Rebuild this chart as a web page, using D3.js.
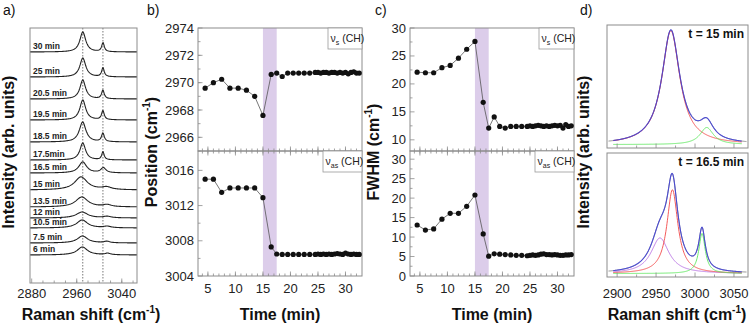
<!DOCTYPE html>
<html>
<head>
<meta charset="utf-8">
<script src="https://cdn.jsdelivr.net/npm/d3@7"></script>
<style>
  body { margin: 0; background: #fff; }
  svg { display: block; font-family: "Liberation Sans", Arial, sans-serif; }
</style>
</head>
<body>
<svg id="fig" width="756" height="324"></svg>
<script>
// ---- Panels b / c: time series (min) ----
const times = [4.5, 6, 7.5, 9, 10.5, 12, 13.5, 15, 16.5, 17.5, 18.5, 19.5, 20.5, 21.5, 22.5, 23.5,
  24.5, 25, 25.5, 26, 26.5, 27, 27.5, 28, 28.5, 29, 29.5, 30, 30.5, 31, 31.5, 32, 32.5];
const posS = [2969.6, 2970.0, 2970.25, 2969.6, 2969.6, 2969.45, 2969.0, 2967.6, 2970.6, 2970.7, 2970.45,
  2970.7, 2970.7, 2970.7, 2970.7, 2970.7, 2970.75, 2970.75, 2970.7, 2970.75, 2970.75, 2970.7, 2970.75,
  2970.75, 2970.7, 2970.75, 2970.7, 2970.75, 2970.65, 2970.75, 2970.8, 2970.7, 2970.7];
const posAs = [3015.0, 3015.0, 3013.5, 3014.0, 3014.0, 3014.0, 3014.0, 3012.9, 3007.3, 3006.5, 3006.45,
  3006.45, 3006.45, 3006.45, 3006.45, 3006.45, 3006.45, 3006.5, 3006.45, 3006.5, 3006.45, 3006.5, 3006.45,
  3006.5, 3006.55, 3006.5, 3006.45, 3006.6, 3006.5, 3006.45, 3006.5, 3006.45, 3006.45];
const fwhmS = [22.1, 22.0, 22.0, 22.9, 23.3, 24.6, 26.2, 27.6, 16.7, 12.1, 14.1, 12.4, 12.1, 12.4, 12.4,
  12.4, 12.4, 12.5, 12.4, 12.5, 12.6, 12.5, 12.4, 12.5, 12.4, 12.5, 12.6, 12.5, 12.6, 12.1, 12.7, 12.4, 12.5];
const fwhmAs = [13.1, 11.8, 12.1, 14.6, 16.1, 16.1, 17.9, 20.8, 10.8, 5.1, 5.7, 5.6, 5.5, 5.4, 5.3, 5.3,
  5.2, 5.3, 5.4, 5.3, 5.4, 5.6, 5.7, 5.5, 5.5, 5.4, 5.5, 5.4, 5.3, 5.3, 5.4, 5.4, 5.5];
const bandRange = [15, 17.5];

// ---- Panel a: stacked spectra (peak parameters taken from panels b/c) ----
const specLabels = ["6 min", "7.5 min", "10.5 min", "12 min", "13.5 min", "15 min", "16.5 min",
  "17.5min", "18.5 min", "19.5 min", "20.5 min", "25 min", "30 min"];
const specTimes = [6, 7.5, 10.5, 12, 13.5, 15, 16.5, 17.5, 18.5, 19.5, 20.5, 25, 30];
const specOffset = [2.8, 4.0, 5.5, 6.5, 7.6, 9.3, 11.0, 12.3, 14.1, 16.3, 18.4, 20.6, 23.1];
const specAmpS = [0.8, 0.7, 0.8, 0.6, 1.0, 1.3, 1.1, 1.7, 2.0, 2.0, 1.9, 1.9, 2.0];
const specAmpAs = [0.15, 0.15, 0.15, 0.15, 0.2, 0.25, 0.5, 0.8, 0.85, 0.9, 0.85, 0.9, 0.9];
const guideLines = [2970.7, 3006.5];

// ---- Panel d: Lorentzian fit components [position, FWHM, amplitude] ----
const fit15 = { red: [2969, 28, 1.0], green: [3015, 21, 0.15] };
const fit165 = { purple: [2955, 28, 0.31], red: [2971, 17, 0.73], green: [3009, 10, 0.35] };
const compColors = { red: "#f24848", green: "#5ee65e", purple: "#b56fe2" };

const svg = d3.select("#fig");
const FRAME = "#8c8c8c";
const FONT_TICK = 13;

function lor(x, p) { const hw = p[1] / 2; return p[2] / (1 + ((x - p[0]) / hw) ** 2); }

function frame(x0, y0, x1, y1) {
  svg.append("rect").attr("x", x0).attr("y", y0).attr("width", x1 - x0).attr("height", y1 - y0)
    .attr("fill", "none").attr("stroke", FRAME).attr("stroke-width", 1);
}

// inward tick marks along a horizontal edge (dir = -1 up, +1 down)
function hTicks(scale, y, majors, minors, dir) {
  minors.forEach(v => svg.append("line").attr("x1", scale(v)).attr("x2", scale(v))
    .attr("y1", y).attr("y2", y + dir * 2.5).attr("stroke", FRAME).attr("stroke-width", 0.8));
  majors.forEach(v => svg.append("line").attr("x1", scale(v)).attr("x2", scale(v))
    .attr("y1", y).attr("y2", y + dir * 4.5).attr("stroke", FRAME).attr("stroke-width", 0.8));
}
function vTicks(scale, x, majors, minors) {
  minors.forEach(v => svg.append("line").attr("y1", scale(v)).attr("y2", scale(v))
    .attr("x1", x).attr("x2", x + 2.5).attr("stroke", FRAME).attr("stroke-width", 0.8));
  majors.forEach(v => svg.append("line").attr("y1", scale(v)).attr("y2", scale(v))
    .attr("x1", x).attr("x2", x + 4.5).attr("stroke", FRAME).attr("stroke-width", 0.8));
}
function xLabels(scale, y, vals) {
  vals.forEach(v => svg.append("text").attr("x", scale(v)).attr("y", y).attr("text-anchor", "middle")
    .attr("font-size", FONT_TICK).attr("fill", "#222").text(v));
}
function yLabels(scale, x, vals) {
  vals.forEach(v => svg.append("text").attr("x", x).attr("y", scale(v) + 4.5).attr("text-anchor", "end")
    .attr("font-size", FONT_TICK).attr("fill", "#222").text(v));
}
// axis title with "(cm-1)" superscript
function title(x, y, main, rotate, sup) {
  const t = svg.append("text").attr("text-anchor", "middle").attr("font-weight", "bold")
    .attr("font-size", 16).attr("fill", "#111")
    .attr("transform", `translate(${x},${y})` + (rotate ? " rotate(-90)" : ""));
  t.append("tspan").text(main);
  if (sup) {
    t.append("tspan").attr("font-size", 10).attr("dy", -7).text("-1");
    t.append("tspan").attr("dy", 7).text(")");
  }
}
function panelLetter(x, txt) {
  svg.append("text").attr("x", x).attr("y", 15).attr("font-size", 14).attr("fill", "#111").text(txt);
}
function legendBox(x0, y0, x1, sub) {
  svg.append("rect").attr("x", x0).attr("y", y0).attr("width", x1 - x0).attr("height", 21)
    .attr("fill", "#fff").attr("stroke", "#999").attr("stroke-width", 0.8);
  const t = svg.append("text").attr("x", x0 + 2.5).attr("y", y0 + 14).attr("font-size", 10.5).attr("fill", "#222");
  t.append("tspan").text("ν");
  t.append("tspan").attr("font-size", 7).attr("dy", 2.5).text(sub);
  t.append("tspan").attr("dy", -2.5).text(" (CH)");
}

// ================= Panel a =================
const ax = d3.scaleLinear().domain([2877, 3067]).range([30, 137]);
const ay = d3.scaleLinear().domain([0, 25.5]).range([283, 28]);
const grid = d3.range(2877, 3067.5, 1);
const specLine = d3.line().x(d => ax(d[0])).y(d => ay(d[1]));

guideLines.forEach(v => svg.append("line").attr("x1", ax(v)).attr("x2", ax(v)).attr("y1", 28).attr("y2", 283)
  .attr("stroke", "#555").attr("stroke-width", 0.8).attr("stroke-dasharray", "1.5,1.5"));

specTimes.forEach((t, i) => {
  const k = times.indexOf(t);
  const p1 = [posS[k], fwhmS[k], specAmpS[i]];
  const p2 = [posAs[k], fwhmAs[k], specAmpAs[i]];
  const pts = grid.map(x => [x, specOffset[i] + lor(x, p1) + lor(x, p2)]);
  svg.append("path").attr("d", specLine(pts)).attr("fill", "none")
    .attr("stroke", "#222").attr("stroke-width", 1.1);
  svg.append("text").attr("x", 33).attr("y", ay(specOffset[i]) - 3.5).attr("font-size", 8.5)
    .attr("font-weight", "bold").attr("fill", "#222").text(specLabels[i]);
});
frame(30, 28, 137, 283);
hTicks(ax, 283, [2880, 2960, 3040], d3.range(2900, 3067, 20), -1);
xLabels(ax, 298, [2880, 2960, 3040]);
title(91, 320, "Raman shift (cm", false, true);
title(14, 152, "Intensity (arb. units)", true, false);
panelLetter(3, "a)");

// ================= Panels b & c =================
function timePanel(x0, x1, topDom, topTicks, topMinor, botDom, botTicks, botMinor, topVals, botVals, yTitle, letter, letterX, titleX) {
  const x = d3.scaleLinear().domain([3.2, 33]).range([x0, x1]);
  const yT = d3.scaleLinear().domain(topDom).range([151, 28]);
  const yB = d3.scaleLinear().domain(botDom).range([276, 151]);
  svg.append("rect").attr("x", x(bandRange[0])).attr("y", 28)
    .attr("width", x(bandRange[1]) - x(bandRange[0])).attr("height", 248).attr("fill", "#dccdea");
  frame(x0, 28, x1, 151);
  frame(x0, 151, x1, 276);
  const majX = [5, 10, 15, 20, 25, 30];
  const minX = d3.range(4, 33, 1);
  hTicks(x, 151, majX, minX, -1);
  hTicks(x, 151, majX, minX, 1);
  hTicks(x, 276, majX, minX, -1);
  vTicks(yT, x0, topTicks, topMinor);
  vTicks(yB, x0, botTicks, botMinor);
  yLabels(yT, x0 - 4, topTicks);
  yLabels(yB, x0 - 4, botTicks);
  xLabels(x, 293, majX);
  [[yT, topVals], [yB, botVals]].forEach(([y, vals]) => {
    const ln = d3.line().x((d, i) => x(times[i])).y(d => y(d));
    svg.append("path").attr("d", ln(vals)).attr("fill", "none").attr("stroke", "#555").attr("stroke-width", 0.8);
    svg.selectAll(null).data(vals).join("circle")
      .attr("cx", (d, i) => x(times[i])).attr("cy", d => y(d)).attr("r", 2.6).attr("fill", "#111");
  });
  title((x0 + x1) / 2, 320, "Time (min)", false, false);
  title(titleX, 152, yTitle, true, true);
  panelLetter(letterX, letter);
  return x;
}

timePanel(198, 362, [2965, 2974], [2966, 2968, 2970, 2972, 2974], d3.range(2965, 2974, 1),
  [3004, 3018.2], [3004, 3008, 3012, 3016], d3.range(3006, 3018, 4), posS, posAs,
  "Position (cm", "b)", 147, 157);
legendBox(328, 28, 362, "s");
legendBox(323, 151, 362, "as");

timePanel(410, 574, [8, 30], [10, 15, 20, 25, 30], d3.range(12.5, 30, 5),
  [0, 32.1], [0, 5, 10, 15, 20, 25, 30], d3.range(2.5, 32, 5), fwhmS, fwhmAs,
  "FWHM (cm", "c)", 375, 379);
legendBox(539, 28, 574, "s");
legendBox(535, 151, 574, "as");

// ================= Panel d =================
const dx = d3.scaleLinear().domain([2887, 3068]).range([607, 748]);
const dyTop = d3.scaleLinear().domain([-0.03, 1.05]).range([148, 25]);
const dyBot = d3.scaleLinear().domain([-0.03, 1.05]).range([277, 153]);
const dataGrid = d3.range(2889, 3066.5, 0.5);
const fitGrid = d3.range(2895, 3060.5, 0.5);

function fitBox(y, fit, y0, y1, label) {
  frame(607, y0, 748, y1);
  const comps = Object.keys(fit);
  const line = d3.line().x(d => dx(d[0])).y(d => y(d[1]));
  const total = x => comps.reduce((s, c) => s + lor(x, fit[c]), 0);
  svg.append("path").attr("d", line(dataGrid.map(x => [x, total(x)]))).attr("fill", "none")
    .attr("stroke", "#8a8a8a").attr("stroke-width", 1);
  comps.forEach(c => svg.append("path").attr("d", line(fitGrid.map(x => [x, lor(x, fit[c])])))
    .attr("fill", "none").attr("stroke", compColors[c]).attr("stroke-width", 0.9));
  svg.append("path").attr("d", line(fitGrid.map(x => [x, total(x)]))).attr("fill", "none")
    .attr("stroke", "#3d3ddb").attr("stroke-width", 1.1).attr("opacity", 0.85);
  svg.append("text").attr("x", 744).attr("y", y0 + 13).attr("text-anchor", "end").attr("font-size", 12)
    .attr("font-weight", "bold").attr("fill", "#111").text(label);
  hTicks(dx, y1, [2900, 2950, 3000, 3050], d3.range(2925, 3060, 50), -1);
}
fitBox(dyTop, fit15, 25, 148, "t = 15 min");
fitBox(dyBot, fit165, 153, 277, "t = 16.5 min");
xLabels(dx, 298, [2900, 2950, 3000, 3050]);
title(677, 320, "Raman shift (cm", false, true);
title(589, 152, "Intensity (arb. units)", true, false);
panelLetter(580, "d)");
</script>
</body>
</html>
